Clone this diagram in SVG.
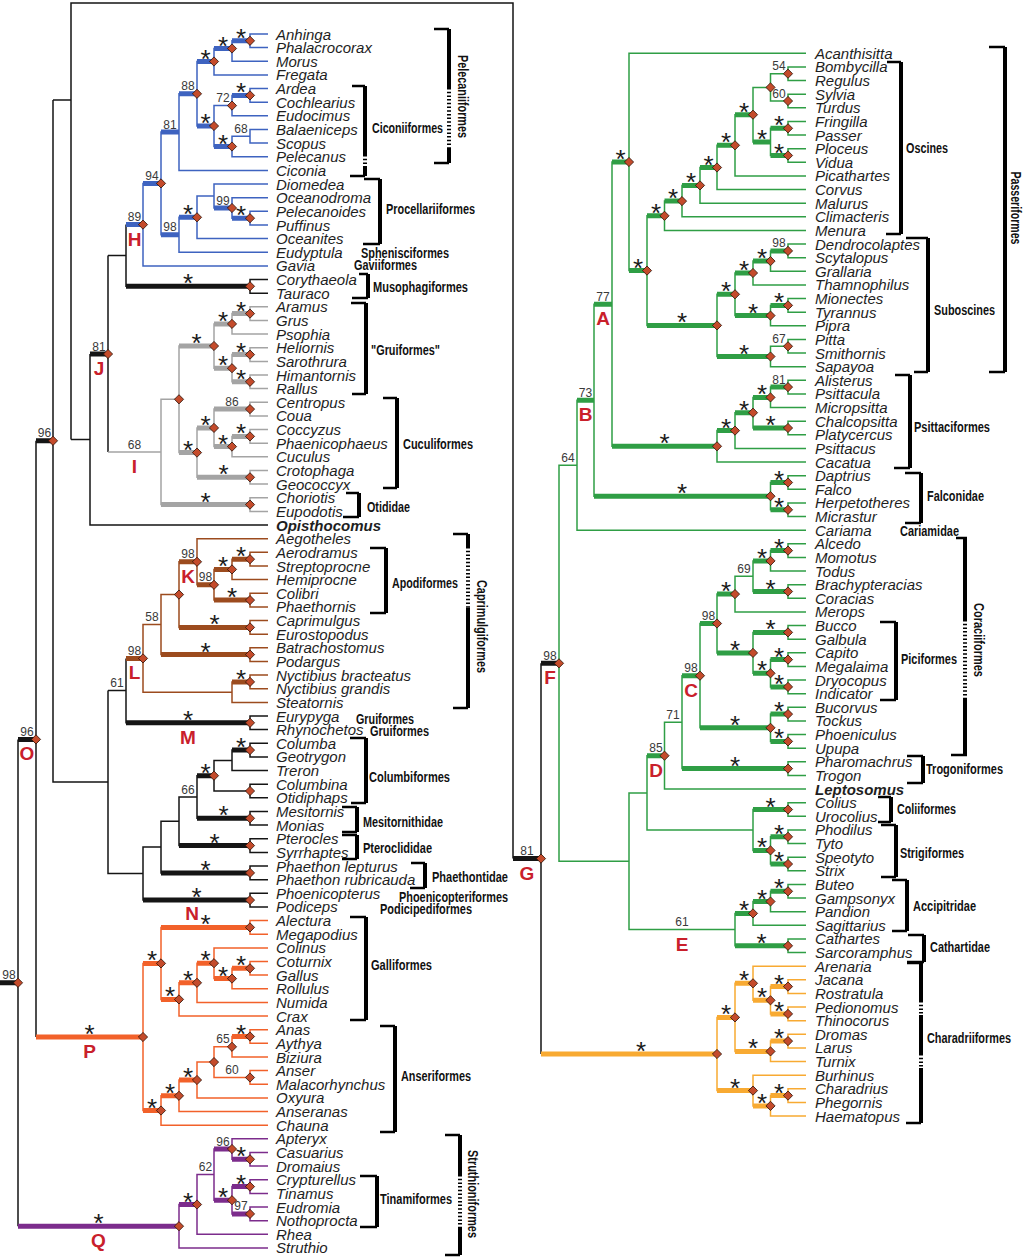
<svg xmlns="http://www.w3.org/2000/svg" xmlns:xlink="http://www.w3.org/1999/xlink" width="1024" height="1257" viewBox="0 0 1024 1257">
<style>
text{font-family:"Liberation Sans",Arial,sans-serif}
.t{font-style:italic;font-size:15px;fill:#1e1e1e}
.tb{font-weight:bold}
.s{font-size:12px;fill:#3a3a3a;text-anchor:middle}
.st{font-size:26px;fill:#1a1a1a;text-anchor:middle}
.lt{font-size:19px;font-weight:bold;fill:#c9202b;text-anchor:middle}
.cl{font-size:14px;font-weight:bold;fill:#111}
.rt{text-anchor:middle}
.th{fill:none;stroke-width:1.5}
.tk{fill:none;stroke-width:5}
.k{stroke:#151515}.b{stroke:#3e63c0}.g{stroke:#a4a4a4}.r{stroke:#9c4b1e}.o{stroke:#f2612a}.p{stroke:#7c2c8c}.e{stroke:#2f9e45}.y{stroke:#f8aa32}
.bar{stroke:#000;stroke-width:4;fill:none}
.tick{stroke:#000;stroke-width:2.5;fill:none}
.dsh{stroke:#000;stroke-width:4;fill:none;stroke-dasharray:1.5 2.2}
</style>
<defs>
<path id="dm" d="M0,-4.6L4.6,0L0,4.6L-4.6,0Z" fill="#c44b2b" stroke="#2b1208" stroke-width="0.8"/>
</defs>
<rect width="1024" height="1257" fill="#fff"/>

<g id="connectors">
<path class="th k" d="M268,279.5H250V293.2H268M126,224.6V286.3H250M108,255.5H126M108,255.5V452M90,354V525H268M90,354H108M71,439.5H90M53,100H71M71,439.5V3H513V858.6M53,100V782.1H108M36,440.8H53M108,690.6V873.6H143M108,690.6H126M126,658.4V722.8H250M268,716H250V729.6H268M268,743.3H250V756.9H268M250,750.1H232V770.6H268M268,784.2H250V797.8H268M232,760.4H214V791H250M268,811.5H250V825.1H268M214,775.7H197V818.3H250M268,838.8H250V852.4H268M197,797H179V845.6H250M268,866H250V879.7H268M179,821.3H161V872.9H250M268,893.3H250V906.9H268M161,847.1H143V900.1H250M36,440.8V1037M18,739.4V1226.2M18,739.4H36M0,982.8H18M541,663.3V1054M513,858.6H541M541,663.3H559"/>
<path class="th b" d="M268,34H250V47.6H268M250,40.8H232V61.3H268M232,48.5H214V74.9H268M268,88.6H250V102.2H268M250,95.4H232V115.8H268M268,129.5H250V143.1H268M250,136.3H232V156.8H268M232,105.6H214V146.5H232M214,61.5H197V126H214M197,93.8H179V170.4H268M268,211.3H250V225H268M268,197.7H232V218.2H250M268,184H214V208H232M214,196H197V238.6H268M197,217.3H179V252.2H268M179,132.1H161V234.8H179M161,183.4H143V265.9H268M126,224.6H143"/>
<path class="th g" d="M268,306.8H250V320.4H268M250,313.6H232V334.1H268M268,347.7H250V361.4H268M268,375H250V388.6H268M250,354.6H232V381.8H250M232,323.9H214V368.2H232M268,402.3H250V415.9H268M268,429.6H250V443.2H268M250,436.4H232V456.8H268M250,409.1H214V446.6H232M268,470.5H250V484.1H268M214,427.9H197V477.3H250M214,346H179V452.6H197M268,497.8H250V511.4H268M179,399.3H161V504.6H250M108,452H161"/>
<path class="th r" d="M268,552.3H250V566H268M250,559.2H232V579.6H268M268,593.2H250V606.9H268M232,569.4H214V600.1H250M268,538.7H197V584.8H214M268,620.5H250V634.2H268M197,561.8H179V627.4H250M268,647.8H250V661.4H268M179,594.6H161V654.6H250M268,675.1H250V688.7H268M250,681.9H232V702.4H268M161,624.6H143V692.2H232"/>
<path class="th o" d="M268,920.6H250V934.2H268M268,961.5H250V975.1H268M250,968.3H232V988.8H268M268,947.9H214V978.6H232M214,963.2H197V1002.4H268M197,982.8H179V1016.1H268M250,927.4H161V999.4H179M268,1029.7H250V1043.3H268M250,1036.5H232V1057H268M268,1070.6H250V1084.3H268M232,1046.8H214V1077.5H250M214,1062.1H197V1097.9H268M197,1080H179V1111.5H268M179,1095.8H161V1125.2H268M161,963.4H143V1110.5H161"/>
<path class="th p" d="M268,1152.5H250V1166.1H268M268,1138.8H232V1159.3H250M268,1179.7H250V1193.4H268M268,1207H250V1220.7H268M250,1186.6H232V1213.9H250M232,1149H214V1200.2H232M214,1174.6H197V1234.3H268M197,1204.5H179V1247.9H268"/>
<path class="th e" d="M806,66.9H788V80.6H806M806,94.2H788V107.8H806M788,73.7H770.5V101H788M806,121.4H788V135.1H806M806,148.7H788V162.3H806M788,128.3H770.5V155.5H788M770.5,87.4H753V141.9H770.5M753,114.7H735V175.9H806M735,145.3H717V189.6H806M717,167.5H700V203.2H806M700,185.4H682V216.8H806M682,201.1H664.5V230.4H806M806,244.1H788V257.7H806M788,250.9H770.5V271.3H806M770.5,261.1H753V284.9H806M806,298.6H788V312.2H806M788,305.4H770.5V325.8H806M753,273H735V315.6H770.5M806,339.4H788V353.1H806M788,346.3H770.5V366.7H806M735,294.3H717V356.5H770.5M664.5,215.8H647V325.4H717M806,53.3H629V270.6H647M806,380.3H788V393.9H806M788,387.1H770.5V407.6H806M806,421.2H788V434.8H806M770.5,397.4H753V428H788M753,412.7H735V448.4H806M735,430.6H717V462.1H806M629,162H612V446.3H717M806,475.7H788V489.3H806M806,502.9H788V516.6H806M788,482.5H770.5V509.8H788M612,304.2H594V496.2H770.5M594,400.2H577V530.2H806M806,543.8H788V557.4H806M788,550.6H770.5V571.1H806M806,584.7H788V598.3H806M770.5,560.9H753V591.5H788M753,576.2H735V611.9H806M806,625.6H788V639.2H806M806,652.8H788V666.4H806M806,680.1H788V693.7H806M788,659.6H770.5V686.9H788M788,632.4H753V673.3H770.5M735,594.1H717V652.9H753M806,707.3H788V720.9H806M806,734.6H788V748.2H806M788,714.1H770.5V741.4H788M717,623.5H700V727.8H770.5M806,761.8H788V775.4H806M700,675.7H682V768.6H788M682,722.2H664.5V789.1H806M806,802.7H788V816.3H806M806,829.9H788V843.6H806M806,857.2H788V870.8H806M788,836.8H770.5V864H788M788,809.5H753V850.4H770.5M664.5,755.7H647V830H753M806,884.4H788V898.1H806M788,891.3H770.5V911.7H806M770.5,901.5H753V925.3H806M806,938.9H788V952.6H806M753,913.4H735V945.8H788M647,792.9H629V929.6H735M577,465.2H559V861.3H629"/>
<path class="th y" d="M806,979.8H788V993.4H806M806,1007.1H788V1020.7H806M788,986.6H770.5V1013.9H788M806,966.2H753V1000.3H770.5M806,1034.3H788V1047.9H806M788,1041.1H770.5V1061.6H806M753,983.3H735V1051.4H770.5M806,1088.8H788V1102.4H806M788,1095.6H770.5V1116.1H806M806,1075.2H753V1105.9H770.5M735,1017.4H717V1090.6H753"/>

<path class="tk k" d="M126,286.3H250M90,354H108M36,440.8H53M126,722.8H250M232,750.1H250M197,775.7H214M197,818.3H250M179,845.6H250M161,872.9H250M143,900.1H250M18,739.4H36M0,982.8H18M513,858.6H541M541,663.3H559"/>
<path class="tk b" d="M232,40.8H250M214,48.5H232M197,61.5H214M232,95.4H250M214,146.5H232M197,126H214M179,93.8H197M161,132.1H179M232,218.2H250M214,208H232M179,217.3H197M161,234.8H179M143,183.4H161M126,224.6H143"/>
<path class="tk g" d="M232,313.6H250M214,323.9H232M232,354.6H250M232,381.8H250M214,368.2H232M179,346H214M214,409.1H250M232,436.4H250M214,446.6H232M197,427.9H214M197,477.3H250M179,452.6H197M161,504.6H250"/>
<path class="tk r" d="M232,559.2H250M214,569.4H232M214,600.1H250M197,584.8H214M179,561.8H197M179,627.4H250M161,654.6H250M232,681.9H250M126,658.4H143"/>
<path class="tk o" d="M161,927.4H250M232,968.3H250M214,978.6H232M197,963.2H214M179,982.8H197M161,999.4H179M143,963.4H161M232,1036.5H250M179,1080H197M161,1095.8H179M143,1110.5H161M36,1037H143"/>
<path class="tk p" d="M232,1159.3H250M214,1149H232M232,1186.6H250M232,1213.9H250M214,1200.2H232M179,1204.5H197M18,1226.2H179"/>
<path class="tk e" d="M770.5,128.3H788M770.5,155.5H788M753,141.9H770.5M735,114.7H753M717,145.3H735M700,167.5H717M682,185.4H700M664.5,201.1H682M647,215.8H664.5M770.5,250.9H788M753,261.1H770.5M735,273H753M770.5,305.4H788M735,315.6H770.5M717,294.3H735M717,356.5H770.5M647,325.4H717M629,270.6H647M612,162H629M770.5,387.1H788M753,397.4H770.5M753,428H788M735,412.7H753M717,430.6H735M612,446.3H717M594,304.2H612M770.5,482.5H788M770.5,509.8H788M594,496.2H770.5M577,400.2H594M770.5,550.6H788M753,560.9H770.5M753,591.5H788M717,594.1H735M753,632.4H788M770.5,659.6H788M770.5,686.9H788M753,673.3H770.5M717,652.9H753M700,623.5H717M770.5,714.1H788M770.5,741.4H788M700,727.8H770.5M682,675.7H700M682,768.6H788M647,755.7H664.5M753,809.5H788M770.5,836.8H788M770.5,864H788M753,850.4H770.5M770.5,891.3H788M753,901.5H770.5M735,913.4H753M735,945.8H788"/>
<path class="tk y" d="M770.5,986.6H788M770.5,1013.9H788M753,1000.3H770.5M735,983.3H753M770.5,1041.1H788M735,1051.4H770.5M717,1017.4H735M770.5,1095.6H788M753,1105.9H770.5M717,1090.6H753M541,1054H717"/>
</g>

<g id="node-markers">
<g id="diamonds">
<use href="#dm" x="250" y="40.8"/><use href="#dm" x="232" y="48.5"/><use href="#dm" x="214" y="61.5"/><use href="#dm" x="250" y="95.4"/><use href="#dm" x="232" y="105.6"/><use href="#dm" x="232" y="146.5"/><use href="#dm" x="214" y="126"/><use href="#dm" x="197" y="93.8"/><use href="#dm" x="250" y="218.2"/><use href="#dm" x="232" y="208"/><use href="#dm" x="197" y="217.3"/><use href="#dm" x="161" y="183.4"/><use href="#dm" x="143" y="224.6"/>
<use href="#dm" x="250" y="286.3"/><use href="#dm" x="108" y="354"/><use href="#dm" x="53" y="440.8"/><use href="#dm" x="250" y="722.8"/><use href="#dm" x="250" y="750.1"/><use href="#dm" x="250" y="791"/><use href="#dm" x="214" y="775.7"/><use href="#dm" x="250" y="818.3"/><use href="#dm" x="250" y="845.6"/><use href="#dm" x="250" y="872.9"/><use href="#dm" x="250" y="900.1"/><use href="#dm" x="36" y="739.4"/><use href="#dm" x="18" y="982.8"/><use href="#dm" x="541" y="858.6"/><use href="#dm" x="559" y="663.3"/>
<use href="#dm" x="250" y="313.6"/><use href="#dm" x="232" y="323.9"/><use href="#dm" x="250" y="354.6"/><use href="#dm" x="250" y="381.8"/><use href="#dm" x="232" y="368.2"/><use href="#dm" x="214" y="346"/><use href="#dm" x="250" y="409.1"/><use href="#dm" x="250" y="436.4"/><use href="#dm" x="232" y="446.6"/><use href="#dm" x="214" y="427.9"/><use href="#dm" x="250" y="477.3"/><use href="#dm" x="197" y="452.6"/><use href="#dm" x="179" y="399.3"/><use href="#dm" x="250" y="504.6"/>
<use href="#dm" x="250" y="559.2"/><use href="#dm" x="232" y="569.4"/><use href="#dm" x="250" y="600.1"/><use href="#dm" x="214" y="584.8"/><use href="#dm" x="197" y="561.8"/><use href="#dm" x="250" y="627.4"/><use href="#dm" x="179" y="594.6"/><use href="#dm" x="250" y="654.6"/><use href="#dm" x="250" y="681.9"/><use href="#dm" x="143" y="658.4"/>
<use href="#dm" x="250" y="927.4"/><use href="#dm" x="250" y="968.3"/><use href="#dm" x="232" y="978.6"/><use href="#dm" x="214" y="963.2"/><use href="#dm" x="197" y="982.8"/><use href="#dm" x="179" y="999.4"/><use href="#dm" x="161" y="963.4"/><use href="#dm" x="250" y="1036.5"/><use href="#dm" x="232" y="1046.8"/><use href="#dm" x="250" y="1077.5"/><use href="#dm" x="214" y="1062.1"/><use href="#dm" x="197" y="1080"/><use href="#dm" x="179" y="1095.8"/><use href="#dm" x="161" y="1110.5"/><use href="#dm" x="143" y="1037"/>
<use href="#dm" x="250" y="1159.3"/><use href="#dm" x="232" y="1149"/><use href="#dm" x="250" y="1186.6"/><use href="#dm" x="250" y="1213.9"/><use href="#dm" x="232" y="1200.2"/><use href="#dm" x="197" y="1204.5"/><use href="#dm" x="179" y="1226.2"/>
<use href="#dm" x="788" y="73.7"/><use href="#dm" x="788" y="101"/><use href="#dm" x="770.5" y="87.4"/><use href="#dm" x="788" y="128.3"/><use href="#dm" x="788" y="155.5"/><use href="#dm" x="753" y="114.7"/><use href="#dm" x="735" y="145.3"/><use href="#dm" x="717" y="167.5"/><use href="#dm" x="700" y="185.4"/><use href="#dm" x="682" y="201.1"/><use href="#dm" x="664.5" y="215.8"/><use href="#dm" x="788" y="250.9"/><use href="#dm" x="770.5" y="261.1"/><use href="#dm" x="753" y="273"/><use href="#dm" x="788" y="305.4"/><use href="#dm" x="770.5" y="315.6"/><use href="#dm" x="735" y="294.3"/><use href="#dm" x="788" y="346.3"/><use href="#dm" x="770.5" y="356.5"/><use href="#dm" x="717" y="325.4"/><use href="#dm" x="647" y="270.6"/><use href="#dm" x="629" y="162"/><use href="#dm" x="788" y="387.1"/><use href="#dm" x="770.5" y="397.4"/><use href="#dm" x="788" y="428"/><use href="#dm" x="753" y="412.7"/><use href="#dm" x="735" y="430.6"/><use href="#dm" x="717" y="446.3"/><use href="#dm" x="788" y="482.5"/><use href="#dm" x="788" y="509.8"/><use href="#dm" x="770.5" y="496.2"/><use href="#dm" x="788" y="550.6"/><use href="#dm" x="770.5" y="560.9"/><use href="#dm" x="788" y="591.5"/><use href="#dm" x="735" y="594.1"/><use href="#dm" x="788" y="632.4"/><use href="#dm" x="788" y="659.6"/><use href="#dm" x="788" y="686.9"/><use href="#dm" x="770.5" y="673.3"/><use href="#dm" x="753" y="652.9"/><use href="#dm" x="717" y="623.5"/><use href="#dm" x="788" y="714.1"/><use href="#dm" x="788" y="741.4"/><use href="#dm" x="770.5" y="727.8"/><use href="#dm" x="700" y="675.7"/><use href="#dm" x="788" y="768.6"/><use href="#dm" x="664.5" y="755.7"/><use href="#dm" x="788" y="809.5"/><use href="#dm" x="788" y="836.8"/><use href="#dm" x="788" y="864"/><use href="#dm" x="770.5" y="850.4"/><use href="#dm" x="788" y="891.3"/><use href="#dm" x="770.5" y="901.5"/><use href="#dm" x="753" y="913.4"/><use href="#dm" x="788" y="945.8"/>
<use href="#dm" x="788" y="986.6"/><use href="#dm" x="788" y="1013.9"/><use href="#dm" x="770.5" y="1000.3"/><use href="#dm" x="753" y="983.3"/><use href="#dm" x="788" y="1041.1"/><use href="#dm" x="770.5" y="1051.4"/><use href="#dm" x="735" y="1017.4"/><use href="#dm" x="788" y="1095.6"/><use href="#dm" x="770.5" y="1105.9"/><use href="#dm" x="753" y="1090.6"/><use href="#dm" x="717" y="1054"/>
</g>
<g id="stars" class="st" transform="translate(0,1)">
<text x="241" y="45.8">*</text><text x="223" y="53.5">*</text><text x="205.5" y="66.5">*</text><text x="241" y="100.4">*</text><text x="223" y="151.5">*</text><text x="205.5" y="131">*</text><text x="241" y="223.2">*</text><text x="188" y="222.3">*</text>
<text x="188" y="291.3">*</text><text x="188" y="727.8">*</text><text x="241" y="755.1">*</text><text x="205.5" y="780.7">*</text><text x="223.5" y="823.3">*</text><text x="214.5" y="850.6">*</text><text x="205.5" y="877.9">*</text><text x="196.5" y="905.1">*</text>
<text x="241" y="318.6">*</text><text x="223" y="328.9">*</text><text x="241" y="359.6">*</text><text x="241" y="386.8">*</text><text x="223" y="373.2">*</text><text x="196.5" y="351">*</text><text x="241" y="441.4">*</text><text x="223" y="451.6">*</text><text x="205.5" y="432.9">*</text><text x="223.5" y="482.3">*</text><text x="188" y="457.6">*</text><text x="205.5" y="509.6">*</text>
<text x="241" y="564.2">*</text><text x="223" y="574.4">*</text><text x="232" y="605.1">*</text><text x="214.5" y="632.4">*</text><text x="205.5" y="659.6">*</text><text x="241" y="686.9">*</text>
<text x="205.5" y="932.4">*</text><text x="241" y="973.3">*</text><text x="223" y="983.6">*</text><text x="205.5" y="968.2">*</text><text x="188" y="987.8">*</text><text x="170" y="1004.4">*</text><text x="152" y="968.4">*</text><text x="241" y="1041.5">*</text><text x="188" y="1085">*</text><text x="170" y="1100.8">*</text><text x="152" y="1115.5">*</text><text x="89.5" y="1042">*</text>
<text x="241" y="1164.3">*</text><text x="241" y="1191.6">*</text><text x="223" y="1205.2">*</text><text x="188" y="1209.5">*</text><text x="98.5" y="1231.2">*</text>
<text x="779" y="133.3">*</text><text x="779" y="160.5">*</text><text x="762" y="146.9">*</text><text x="744" y="119.7">*</text><text x="726" y="150.3">*</text><text x="708.5" y="172.5">*</text><text x="691" y="190.4">*</text><text x="673" y="206.1">*</text><text x="656" y="220.8">*</text><text x="762" y="266.1">*</text><text x="744" y="278">*</text><text x="779" y="310.4">*</text><text x="753" y="320.6">*</text><text x="726" y="299.3">*</text><text x="744" y="361.5">*</text><text x="682" y="330.4">*</text><text x="638" y="275.6">*</text><text x="620.5" y="167">*</text><text x="762" y="402.4">*</text><text x="770.5" y="433">*</text><text x="744" y="417.7">*</text><text x="726" y="435.6">*</text><text x="664.5" y="451.3">*</text><text x="779" y="487.5">*</text><text x="779" y="514.8">*</text><text x="682" y="501.2">*</text><text x="779" y="555.6">*</text><text x="762" y="565.9">*</text><text x="770.5" y="596.5">*</text><text x="726" y="599.1">*</text><text x="770.5" y="637.4">*</text><text x="779" y="664.6">*</text><text x="779" y="691.9">*</text><text x="762" y="678.3">*</text><text x="735" y="657.9">*</text><text x="779" y="719.1">*</text><text x="779" y="746.4">*</text><text x="735" y="732.8">*</text><text x="735" y="773.6">*</text><text x="770.5" y="814.5">*</text><text x="779" y="841.8">*</text><text x="779" y="869">*</text><text x="762" y="855.4">*</text><text x="779" y="896.3">*</text><text x="762" y="906.5">*</text><text x="744" y="918.4">*</text><text x="761.5" y="950.8">*</text>
<text x="779" y="991.6">*</text><text x="779" y="1018.9">*</text><text x="762" y="1005.3">*</text><text x="744" y="988.3">*</text><text x="779" y="1046.1">*</text><text x="753" y="1056.4">*</text><text x="726" y="1022.4">*</text><text x="779" y="1100.6">*</text><text x="762" y="1110.9">*</text><text x="735" y="1095.6">*</text><text x="641" y="1059">*</text>
</g>
<g id="support" class="s">
<text x="188" y="90.3">88</text><text x="223" y="102.1">72</text><text x="241" y="132.8">68</text><text x="170" y="128.6">81</text><text x="223" y="204.5">99</text><text x="170" y="231.3">98</text><text x="152" y="179.9">94</text><text x="134.5" y="221.1">89</text>
<text x="99" y="350.5">81</text><text x="44.5" y="437.3">96</text><text x="117" y="687.1">61</text><text x="188" y="793.5">66</text><text x="27" y="735.9">96</text><text x="9" y="979.3">98</text><text x="527" y="855.1">81</text><text x="550" y="659.8">98</text>
<text x="232" y="405.6">86</text><text x="134.5" y="448.5">68</text>
<text x="205.5" y="581.3">98</text><text x="188" y="558.3">98</text><text x="152" y="621.1">58</text><text x="134.5" y="654.9">98</text>
<text x="223" y="1043.3">65</text><text x="232" y="1074">60</text>
<text x="223" y="1145.5">96</text><text x="241" y="1210.4">97</text><text x="205.5" y="1171.1">62</text>
<text x="779" y="70.2">54</text><text x="779" y="97.5">60</text><text x="779" y="247.4">98</text><text x="779" y="342.8">67</text><text x="779" y="383.6">81</text><text x="603" y="300.7">77</text><text x="585.5" y="396.7">73</text><text x="568" y="461.7">64</text><text x="744" y="572.7">69</text><text x="708.5" y="620">98</text><text x="691" y="672.2">98</text><text x="673" y="718.7">71</text><text x="656" y="752.2">85</text><text x="682" y="926.1">61</text>
</g>
<g id="clade-letters" class="lt">
<text x="134.5" y="245.6">H</text><text x="99" y="375">J</text><text x="134.5" y="473">I</text><text x="188" y="582.8">K</text><text x="134.5" y="679.4">L</text><text x="188" y="743.8">M</text><text x="192" y="920">N</text><text x="27" y="760.4">O</text><text x="89.5" y="1058">P</text><text x="98.5" y="1247">Q</text>
<text x="603" y="325.2">A</text><text x="585.5" y="421.2">B</text><text x="691" y="696.7">C</text><text x="656" y="776.7">D</text><text x="682" y="950.6">E</text><text x="550" y="684.3">F</text><text x="527" y="879.6">G</text>
</g>
</g>

<g id="tips-left" class="t">
<text id="Anhinga" x="276" y="39.5">Anhinga</text>
<text id="Phalacrocorax" x="276" y="53.1">Phalacrocorax</text>
<text id="Morus" x="276" y="66.8">Morus</text>
<text id="Fregata" x="276" y="80.4">Fregata</text>
<text id="Ardea" x="276" y="94.1">Ardea</text>
<text id="Cochlearius" x="276" y="107.7">Cochlearius</text>
<text id="Eudocimus" x="276" y="121.3">Eudocimus</text>
<text id="Balaeniceps" x="276" y="135">Balaeniceps</text>
<text id="Scopus" x="276" y="148.6">Scopus</text>
<text id="Pelecanus" x="276" y="162.3">Pelecanus</text>
<text id="Ciconia" x="276" y="175.9">Ciconia</text>
<text id="Diomedea" x="276" y="189.5">Diomedea</text>
<text id="Oceanodroma" x="276" y="203.2">Oceanodroma</text>
<text id="Pelecanoides" x="276" y="216.8">Pelecanoides</text>
<text id="Puffinus" x="276" y="230.5">Puffinus</text>
<text id="Oceanites" x="276" y="244.1">Oceanites</text>
<text id="Eudyptula" x="276" y="257.7">Eudyptula</text>
<text id="Gavia" x="276" y="271.4">Gavia</text>
<text id="Corythaeola" x="276" y="285">Corythaeola</text>
<text id="Tauraco" x="276" y="298.7">Tauraco</text>
<text id="Aramus" x="276" y="312.3">Aramus</text>
<text id="Grus" x="276" y="325.9">Grus</text>
<text id="Psophia" x="276" y="339.6">Psophia</text>
<text id="Heliornis" x="276" y="353.2">Heliornis</text>
<text id="Sarothrura" x="276" y="366.9">Sarothrura</text>
<text id="Himantornis" x="276" y="380.5">Himantornis</text>
<text id="Rallus" x="276" y="394.1">Rallus</text>
<text id="Centropus" x="276" y="407.8">Centropus</text>
<text id="Coua" x="276" y="421.4">Coua</text>
<text id="Coccyzus" x="276" y="435.1">Coccyzus</text>
<text id="Phaenicophaeus" x="276" y="448.7">Phaenicophaeus</text>
<text id="Cuculus" x="276" y="462.3">Cuculus</text>
<text id="Crotophaga" x="276" y="476">Crotophaga</text>
<text id="Geococcyx" x="276" y="489.6">Geococcyx</text>
<text id="Choriotis" x="276" y="503.3">Choriotis</text>
<text id="Eupodotis" x="276" y="516.9">Eupodotis</text>
<text id="Opisthocomus" class="tb" x="276" y="530.5">Opisthocomus</text>
<text id="Aegotheles" x="276" y="544.2">Aegotheles</text>
<text id="Aerodramus" x="276" y="557.8">Aerodramus</text>
<text id="Streptoprocne" x="276" y="571.5">Streptoprocne</text>
<text id="Hemiprocne" x="276" y="585.1">Hemiprocne</text>
<text id="Colibri" x="276" y="598.7">Colibri</text>
<text id="Phaethornis" x="276" y="612.4">Phaethornis</text>
<text id="Caprimulgus" x="276" y="626">Caprimulgus</text>
<text id="Eurostopodus" x="276" y="639.7">Eurostopodus</text>
<text id="Batrachostomus" x="276" y="653.3">Batrachostomus</text>
<text id="Podargus" x="276" y="666.9">Podargus</text>
<text id="Nyctibius_bracteatus" x="276" y="680.6">Nyctibius bracteatus</text>
<text id="Nyctibius_grandis" x="276" y="694.2">Nyctibius grandis</text>
<text id="Steatornis" x="276" y="707.9">Steatornis</text>
<text id="Eurypyga" x="276" y="721.5">Eurypyga</text>
<text id="Rhynochetos" x="276" y="735.1">Rhynochetos</text>
<text id="Columba" x="276" y="748.8">Columba</text>
<text id="Geotrygon" x="276" y="762.4">Geotrygon</text>
<text id="Treron" x="276" y="776.1">Treron</text>
<text id="Columbina" x="276" y="789.7">Columbina</text>
<text id="Otidiphaps" x="276" y="803.3">Otidiphaps</text>
<text id="Mesitornis" x="276" y="817">Mesitornis</text>
<text id="Monias" x="276" y="830.6">Monias</text>
<text id="Pterocles" x="276" y="844.3">Pterocles</text>
<text id="Syrrhaptes" x="276" y="857.9">Syrrhaptes</text>
<text id="Phaethon_lepturus" x="276" y="871.5">Phaethon lepturus</text>
<text id="Phaethon_rubricauda" x="276" y="885.2">Phaethon rubricauda</text>
<text id="Phoenicopterus" x="276" y="898.8">Phoenicopterus</text>
<text id="Podiceps" x="276" y="912.4">Podiceps</text>
<text id="Alectura" x="276" y="926.1">Alectura</text>
<text id="Megapodius" x="276" y="939.7">Megapodius</text>
<text id="Colinus" x="276" y="953.4">Colinus</text>
<text id="Coturnix" x="276" y="967">Coturnix</text>
<text id="Gallus" x="276" y="980.6">Gallus</text>
<text id="Rollulus" x="276" y="994.3">Rollulus</text>
<text id="Numida" x="276" y="1007.9">Numida</text>
<text id="Crax" x="276" y="1021.6">Crax</text>
<text id="Anas" x="276" y="1035.2">Anas</text>
<text id="Aythya" x="276" y="1048.8">Aythya</text>
<text id="Biziura" x="276" y="1062.5">Biziura</text>
<text id="Anser" x="276" y="1076.1">Anser</text>
<text id="Malacorhynchus" x="276" y="1089.8">Malacorhynchus</text>
<text id="Oxyura" x="276" y="1103.4">Oxyura</text>
<text id="Anseranas" x="276" y="1117">Anseranas</text>
<text id="Chauna" x="276" y="1130.7">Chauna</text>
<text id="Apteryx" x="276" y="1144.3">Apteryx</text>
<text id="Casuarius" x="276" y="1158">Casuarius</text>
<text id="Dromaius" x="276" y="1171.6">Dromaius</text>
<text id="Crypturellus" x="276" y="1185.2">Crypturellus</text>
<text id="Tinamus" x="276" y="1198.9">Tinamus</text>
<text id="Eudromia" x="276" y="1212.5">Eudromia</text>
<text id="Nothoprocta" x="276" y="1226.2">Nothoprocta</text>
<text id="Rhea" x="276" y="1239.8">Rhea</text>
<text id="Struthio" x="276" y="1253.4">Struthio</text>
</g>

<g id="tips-right" class="t">
<text id="Acanthisitta" x="815" y="58.8">Acanthisitta</text>
<text id="Bombycilla" x="815" y="72.4">Bombycilla</text>
<text id="Regulus" x="815" y="86.1">Regulus</text>
<text id="Sylvia" x="815" y="99.7">Sylvia</text>
<text id="Turdus" x="815" y="113.3">Turdus</text>
<text id="Fringilla" x="815" y="126.9">Fringilla</text>
<text id="Passer" x="815" y="140.6">Passer</text>
<text id="Ploceus" x="815" y="154.2">Ploceus</text>
<text id="Vidua" x="815" y="167.8">Vidua</text>
<text id="Picathartes" x="815" y="181.4">Picathartes</text>
<text id="Corvus" x="815" y="195.1">Corvus</text>
<text id="Malurus" x="815" y="208.7">Malurus</text>
<text id="Climacteris" x="815" y="222.3">Climacteris</text>
<text id="Menura" x="815" y="235.9">Menura</text>
<text id="Dendrocolaptes" x="815" y="249.6">Dendrocolaptes</text>
<text id="Scytalopus" x="815" y="263.2">Scytalopus</text>
<text id="Grallaria" x="815" y="276.8">Grallaria</text>
<text id="Thamnophilus" x="815" y="290.4">Thamnophilus</text>
<text id="Mionectes" x="815" y="304.1">Mionectes</text>
<text id="Tyrannus" x="815" y="317.7">Tyrannus</text>
<text id="Pipra" x="815" y="331.3">Pipra</text>
<text id="Pitta" x="815" y="344.9">Pitta</text>
<text id="Smithornis" x="815" y="358.6">Smithornis</text>
<text id="Sapayoa" x="815" y="372.2">Sapayoa</text>
<text id="Alisterus" x="815" y="385.8">Alisterus</text>
<text id="Psittacula" x="815" y="399.4">Psittacula</text>
<text id="Micropsitta" x="815" y="413.1">Micropsitta</text>
<text id="Chalcopsitta" x="815" y="426.7">Chalcopsitta</text>
<text id="Platycercus" x="815" y="440.3">Platycercus</text>
<text id="Psittacus" x="815" y="453.9">Psittacus</text>
<text id="Cacatua" x="815" y="467.6">Cacatua</text>
<text id="Daptrius" x="815" y="481.2">Daptrius</text>
<text id="Falco" x="815" y="494.8">Falco</text>
<text id="Herpetotheres" x="815" y="508.4">Herpetotheres</text>
<text id="Micrastur" x="815" y="522.1">Micrastur</text>
<text id="Cariama" x="815" y="535.7">Cariama</text>
<text id="Alcedo" x="815" y="549.3">Alcedo</text>
<text id="Momotus" x="815" y="562.9">Momotus</text>
<text id="Todus" x="815" y="576.6">Todus</text>
<text id="Brachypteracias" x="815" y="590.2">Brachypteracias</text>
<text id="Coracias" x="815" y="603.8">Coracias</text>
<text id="Merops" x="815" y="617.4">Merops</text>
<text id="Bucco" x="815" y="631.1">Bucco</text>
<text id="Galbula" x="815" y="644.7">Galbula</text>
<text id="Capito" x="815" y="658.3">Capito</text>
<text id="Megalaima" x="815" y="671.9">Megalaima</text>
<text id="Dryocopus" x="815" y="685.6">Dryocopus</text>
<text id="Indicator" x="815" y="699.2">Indicator</text>
<text id="Bucorvus" x="815" y="712.8">Bucorvus</text>
<text id="Tockus" x="815" y="726.4">Tockus</text>
<text id="Phoeniculus" x="815" y="740.1">Phoeniculus</text>
<text id="Upupa" x="815" y="753.7">Upupa</text>
<text id="Pharomachrus" x="815" y="767.3">Pharomachrus</text>
<text id="Trogon" x="815" y="780.9">Trogon</text>
<text id="Leptosomus" class="tb" x="815" y="794.6">Leptosomus</text>
<text id="Colius" x="815" y="808.2">Colius</text>
<text id="Urocolius" x="815" y="821.8">Urocolius</text>
<text id="Phodilus" x="815" y="835.4">Phodilus</text>
<text id="Tyto" x="815" y="849.1">Tyto</text>
<text id="Speotyto" x="815" y="862.7">Speotyto</text>
<text id="Strix" x="815" y="876.3">Strix</text>
<text id="Buteo" x="815" y="889.9">Buteo</text>
<text id="Gampsonyx" x="815" y="903.6">Gampsonyx</text>
<text id="Pandion" x="815" y="917.2">Pandion</text>
<text id="Sagittarius" x="815" y="930.8">Sagittarius</text>
<text id="Cathartes" x="815" y="944.4">Cathartes</text>
<text id="Sarcoramphus" x="815" y="958.1">Sarcoramphus</text>
<text id="Arenaria" x="815" y="971.7">Arenaria</text>
<text id="Jacana" x="815" y="985.3">Jacana</text>
<text id="Rostratula" x="815" y="998.9">Rostratula</text>
<text id="Pedionomus" x="815" y="1012.6">Pedionomus</text>
<text id="Thinocorus" x="815" y="1026.2">Thinocorus</text>
<text id="Dromas" x="815" y="1039.8">Dromas</text>
<text id="Larus" x="815" y="1053.4">Larus</text>
<text id="Turnix" x="815" y="1067.1">Turnix</text>
<text id="Burhinus" x="815" y="1080.7">Burhinus</text>
<text id="Charadrius" x="815" y="1094.3">Charadrius</text>
<text id="Phegornis" x="815" y="1107.9">Phegornis</text>
<text id="Haematopus" x="815" y="1121.6">Haematopus</text>
</g>

<g id="brackets">
<path class="tick" d="M434,29H449M434,163H449M352,86H365M350,176H365M364,179H380M363,244H380M359,274H368M352,298H368M351,303H366M352,394H366M383,398H397M383,488H397M346,493H359M343,517H359M453,534H468M453,708H468M370,548H386M370,613H386M350,738H366M351,803H366M342,807H357M342,832H357M342,835H357M342,859H357M411,863H425M410,888H425M350,917H366M350,1020H366M380,1026H395M380,1132H395M445,1135H460M445,1255H460M360,1176H377M360,1227H377M989,47H1005M989,372H1005M887,62H901M886,234H901M906,238H928M914,372H928M895,375H910M894,468H910M905,473H921M905,523H921M956,538H967M951,755H967M880,622H896M880,700H896M907,756H923M907,783H923M878,797H891M878,822H891M881,825H896M881,877H896M892,880H907M892,931H907M908,935H924M907,962H924M907,963H921M906,1123H921"/>
<path class="bar" d="M449,29V88M449,148V163M365,86V155M365,166V176M380,179V244M368,274V298M366,303V394M397,398V488M359,493V517M468,534V547M468,608V708M386,548V613M366,738V803M357,807V832M357,835V859M425,863V888M366,917V1020M395,1026V1132M460,1135V1175M460,1228V1255M377,1176V1227M1005,47V372M901,62V234M928,238V372M910,375V468M921,473V523M965,538V620M965,698V755M896,622V700M923,756V783M891,797V822M896,825V877M907,880V931M924,935V962M921,963V1001M921,1015V1054M921,1068V1123"/>
<path class="dsh" d="M449,88V148M365,155V166M468,547V608M460,1175V1228M965,620V698M921,1001V1015M921,1054V1068"/>
</g>

<g id="clade-names" class="cl">
<text x="372" y="133" textLength="71" lengthAdjust="spacingAndGlyphs">Ciconiiformes</text>
<text x="386" y="214" textLength="89" lengthAdjust="spacingAndGlyphs">Procellariiformes</text>
<text x="361" y="258" textLength="88" lengthAdjust="spacingAndGlyphs">Sphenisciformes</text>
<text x="354" y="270" textLength="63" lengthAdjust="spacingAndGlyphs">Gaviiformes</text>
<text x="373" y="292" textLength="95" lengthAdjust="spacingAndGlyphs">Musophagiformes</text>
<text x="371" y="355" textLength="69" lengthAdjust="spacingAndGlyphs">"Gruiformes"</text>
<text x="403" y="449" textLength="70" lengthAdjust="spacingAndGlyphs">Cuculiformes</text>
<text x="367" y="512" textLength="43" lengthAdjust="spacingAndGlyphs">Otididae</text>
<text x="392" y="588" textLength="66" lengthAdjust="spacingAndGlyphs">Apodiformes</text>
<text x="356" y="724" textLength="58" lengthAdjust="spacingAndGlyphs">Gruiformes</text>
<text x="370" y="736" textLength="59" lengthAdjust="spacingAndGlyphs">Gruiformes</text>
<text x="369" y="782" textLength="81" lengthAdjust="spacingAndGlyphs">Columbiformes</text>
<text x="363" y="827" textLength="80" lengthAdjust="spacingAndGlyphs">Mesitornithidae</text>
<text x="363" y="853" textLength="69" lengthAdjust="spacingAndGlyphs">Pteroclididae</text>
<text x="432" y="882" textLength="76" lengthAdjust="spacingAndGlyphs">Phaethontidae</text>
<text x="399" y="902" textLength="109" lengthAdjust="spacingAndGlyphs">Phoenicopteriformes</text>
<text x="380" y="914" textLength="92" lengthAdjust="spacingAndGlyphs">Podicipediformes</text>
<text x="371" y="970" textLength="61" lengthAdjust="spacingAndGlyphs">Galliformes</text>
<text x="401" y="1081" textLength="70" lengthAdjust="spacingAndGlyphs">Anseriformes</text>
<text x="380" y="1204" textLength="72" lengthAdjust="spacingAndGlyphs">Tinamiformes</text>
<text x="906" y="153" textLength="42" lengthAdjust="spacingAndGlyphs">Oscines</text>
<text x="934" y="315" textLength="61" lengthAdjust="spacingAndGlyphs">Suboscines</text>
<text x="914" y="432" textLength="76" lengthAdjust="spacingAndGlyphs">Psittaciformes</text>
<text x="927" y="501" textLength="57" lengthAdjust="spacingAndGlyphs">Falconidae</text>
<text x="900" y="536" textLength="59" lengthAdjust="spacingAndGlyphs">Cariamidae</text>
<text x="901" y="664" textLength="56" lengthAdjust="spacingAndGlyphs">Piciformes</text>
<text x="926" y="774" textLength="77" lengthAdjust="spacingAndGlyphs">Trogoniformes</text>
<text x="897" y="814" textLength="59" lengthAdjust="spacingAndGlyphs">Coliiformes</text>
<text x="900" y="858" textLength="64" lengthAdjust="spacingAndGlyphs">Strigiformes</text>
<text x="913" y="911" textLength="63" lengthAdjust="spacingAndGlyphs">Accipitridae</text>
<text x="930" y="952" textLength="60" lengthAdjust="spacingAndGlyphs">Cathartidae</text>
<text x="927" y="1043" textLength="84" lengthAdjust="spacingAndGlyphs">Charadriiformes</text>
<text class="rt" transform="translate(458,96.5) rotate(90)" textLength="83" lengthAdjust="spacingAndGlyphs">Pelecaniiformes</text>
<text class="rt" transform="translate(477,626.5) rotate(90)" textLength="93" lengthAdjust="spacingAndGlyphs">Caprimulgiformes</text>
<text class="rt" transform="translate(468,1194) rotate(90)" textLength="88" lengthAdjust="spacingAndGlyphs">Struthioniformes</text>
<text class="rt" transform="translate(1011,208) rotate(90)" textLength="73" lengthAdjust="spacingAndGlyphs">Passeriformes</text>
<text class="rt" transform="translate(974,640) rotate(90)" textLength="74" lengthAdjust="spacingAndGlyphs">Coraciiformes</text>
</g>
</svg>
